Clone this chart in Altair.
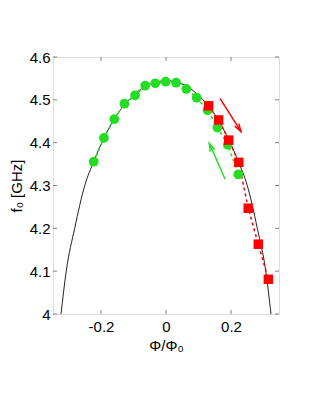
import altair as alt
import pandas as pd

# theoretical curve
curve_phi = [-0.323, -0.307, -0.281, -0.250, -0.2225, -0.19, -0.158, -0.126, -0.095, -0.063, -0.032, 0.0,
             0.032, 0.063, 0.095, 0.126, 0.158, 0.19, 0.2225, 0.250, 0.281, 0.307, 0.323]
curve_f = [4.0, 4.1, 4.2, 4.3, 4.356, 4.412, 4.457, 4.49, 4.514, 4.532, 4.541, 4.545,
           4.541, 4.532, 4.514, 4.49, 4.457, 4.412, 4.356, 4.3, 4.2, 4.1, 4.0]

# green circles (sweep up)
green_phi = [-0.2225, -0.191, -0.159, -0.128, -0.095, -0.064, -0.033, -0.001, 0.031, 0.0625, 0.0945,
             0.128, 0.158, 0.190, 0.2225]
green_f = [4.3555, 4.411, 4.455, 4.491, 4.5106, 4.533, 4.5386, 4.5423, 4.540, 4.5253, 4.505,
           4.4756, 4.4354, 4.3952, 4.3257]

# red squares (sweep down)
red_phi = [0.131, 0.162, 0.193, 0.224, 0.253, 0.284, 0.315]
red_f = [4.486, 4.453, 4.406, 4.354, 4.247, 4.163, 4.081]

# arrows: start, end
arrow_phi = [0.166, 0.1815]
arrow_f = [4.5036, 4.3152]
arrow_phi2 = [0.2308, 0.1332]
arrow_f2 = [4.4257, 4.3985]
arrow_color = ["#ff0000", "#22dd22"]
arrow_angle = [147.8, 336.3]

x_ticks = [-0.2, 0.0, 0.2]
y_ticks = [4.0, 4.1, 4.2, 4.3, 4.4, 4.5, 4.6]

W, H = 226, 257
FONT = "Liberation Sans"
FRAME = "#808080"

xs = alt.Scale(domain=[-0.3477, 0.3477], nice=False, zero=False)
ys = alt.Scale(domain=[4.0, 4.6], nice=False, zero=False)

xaxis = alt.Axis(values=x_ticks, title="Φ/Φ₀", grid=False, ticks=False, domain=False,
                 labelFontSize=15, labelFont=FONT, labelColor="black", labelPadding=5,
                 format=".1~f", labelExpr="replace(datum.label, '\u2212', '-')",
                 titleFontSize=15, titleFont=FONT, titleFontWeight="normal", titleColor="black",
                 titleBaseline="alphabetic", titleY=36, titleX=W / 2)
yaxis = alt.Axis(values=y_ticks, title="f₀ [GHz]", grid=False, ticks=False, domain=False,
                 labelFontSize=15, labelFont=FONT, labelColor="black", labelPadding=3,
                 format=".1~f",
                 titleFontSize=15, titleFont=FONT, titleFontWeight="normal", titleColor="black",
                 titleBaseline="alphabetic", titleX=-32, titleY=H / 2, titleAngle=270)

X = alt.X("phi:Q", scale=xs, axis=xaxis)
Y = alt.Y("f:Q", scale=ys, axis=yaxis)

curve_df = pd.DataFrame({"phi": curve_phi, "f": curve_f})
green_df = pd.DataFrame({"phi": green_phi, "f": green_f})
red_df = pd.DataFrame({"phi": red_phi, "f": red_f})
arrow_df = pd.DataFrame({"phi": arrow_phi, "f": arrow_f, "phi2": arrow_phi2, "f2": arrow_f2,
                         "c": arrow_color})
head_df = pd.DataFrame({"phi": arrow_phi2, "f": arrow_f2, "c": arrow_color, "a": arrow_angle})
xt_df = pd.DataFrame({"phi": x_ticks})
yt_df = pd.DataFrame({"f": y_ticks})

curve = alt.Chart(curve_df).mark_line(color="#222222", strokeWidth=1, interpolate="monotone", clip=True).encode(x=X, y=Y)
gline = alt.Chart(green_df).mark_line(color="#22dd22", strokeWidth=1.5, strokeDash=[3, 3]).encode(x=X, y=Y)
rline = alt.Chart(red_df).mark_line(color="#ff0000", strokeWidth=1.5, strokeDash=[3, 3]).encode(x=X, y=Y)
gpts = alt.Chart(green_df).mark_point(shape="circle", filled=True, opacity=1, size=95, color="#22dd22").encode(x=X, y=Y)
rpts = alt.Chart(red_df).mark_point(shape="square", filled=True, opacity=1, size=90, color="#ff0000").encode(x=X, y=Y)
arrows = alt.Chart(arrow_df).mark_rule(strokeWidth=1.5).encode(
    x=X, y=Y, x2="phi2:Q", y2="f2:Q", color=alt.Color("c:N", scale=None))
heads = alt.Chart(head_df).mark_point(shape="M-0.6,2L0,0L0.6,2", filled=False, size=64, strokeWidth=1.5, opacity=1).encode(
    x=X, y=Y, color=alt.Color("c:N", scale=None), angle=alt.Angle("a:Q", scale=None))

tk = dict(color=FRAME, strokeWidth=1)
xt_bot = alt.Chart(xt_df).mark_rule(**tk).encode(x=X, y=alt.value(H), y2=alt.value(H - 4))
xt_top = alt.Chart(xt_df).mark_rule(**tk).encode(x=X, y=alt.value(0), y2=alt.value(4))
yt_l = alt.Chart(yt_df).mark_rule(**tk).encode(y=Y, x=alt.value(0), x2=alt.value(4))
yt_r = alt.Chart(yt_df).mark_rule(**tk).encode(y=Y, x=alt.value(W), x2=alt.value(W - 4))

chart = alt.layer(curve, gline, rline, gpts, rpts, arrows, heads, xt_bot, xt_top, yt_l, yt_r).properties(
    width=W, height=H,
    autosize=alt.AutoSizeParams(type="none"),
    padding={"left": 45, "top": 49, "right": 33, "bottom": 92},
).configure_view(stroke=FRAME, strokeWidth=1).configure(background="white")

chart.save("out.html", embed_options={"renderer": "svg", "actions": False})
